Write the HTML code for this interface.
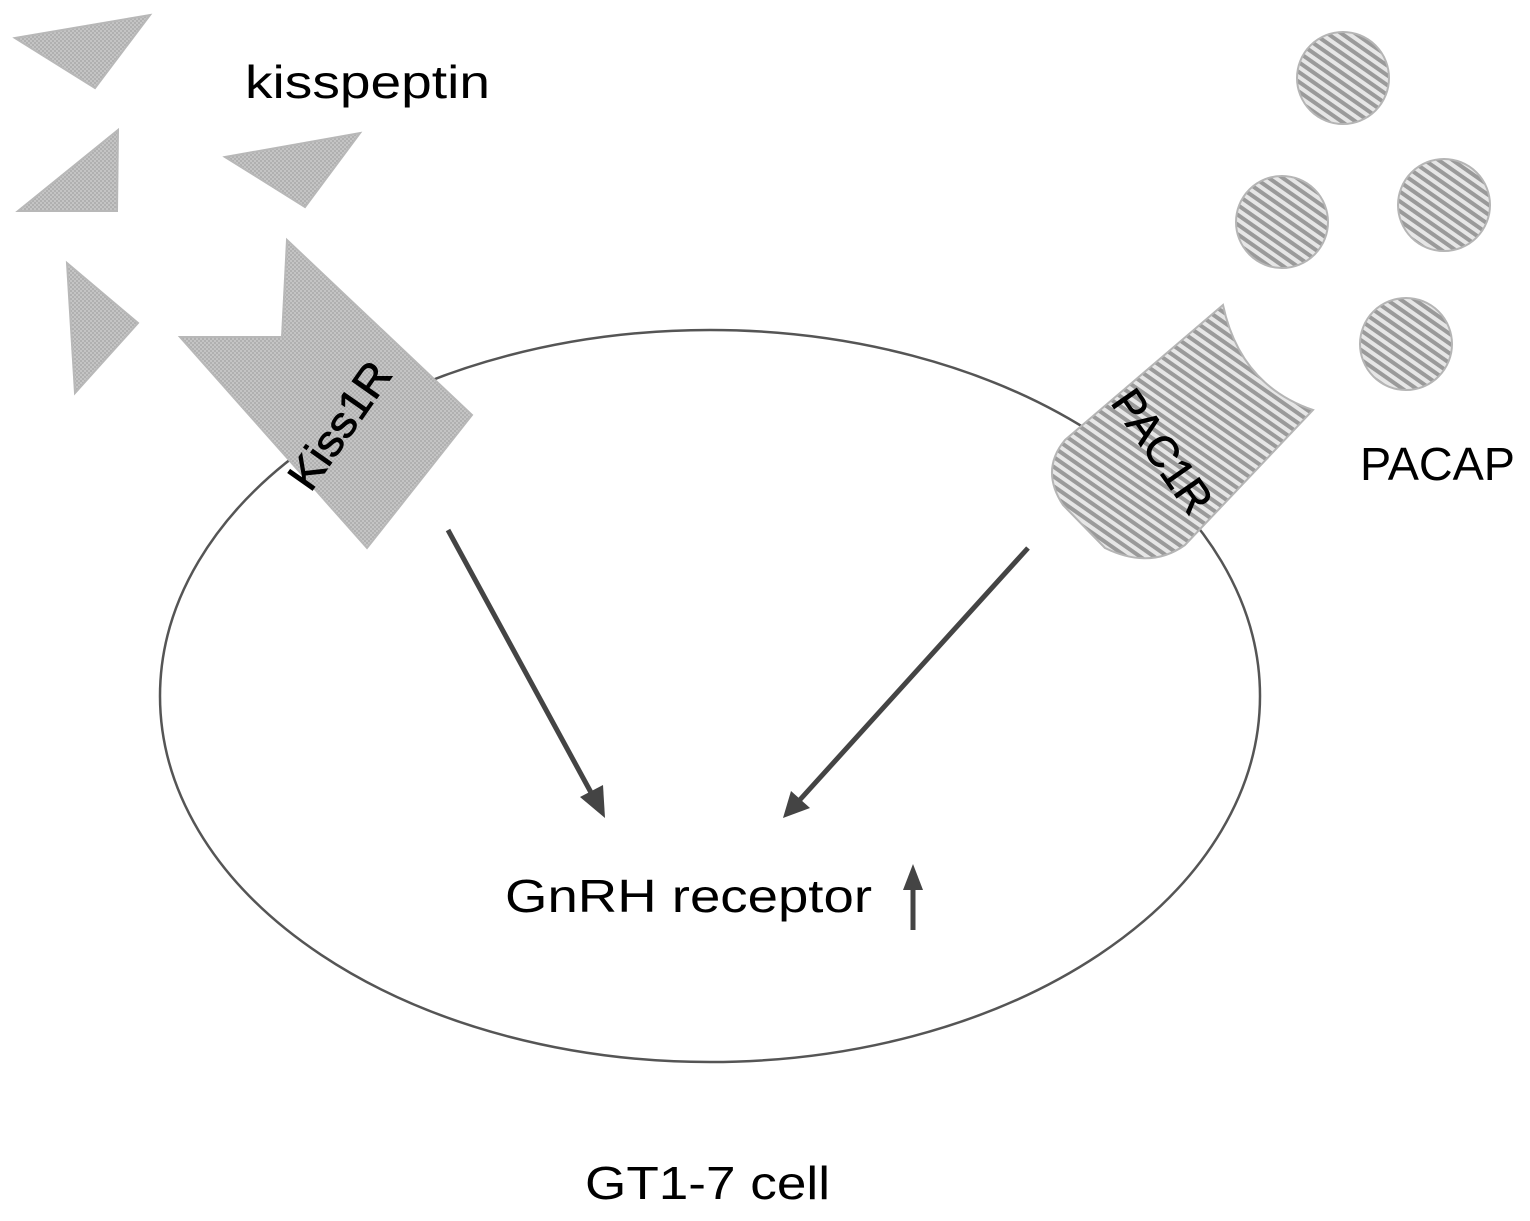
<!DOCTYPE html>
<html><head><style>html,body{margin:0;padding:0;background:#fff}svg{display:block}</style></head>
<body>
<svg width="1530" height="1221" viewBox="0 0 1530 1221" xmlns="http://www.w3.org/2000/svg">
<defs>
<pattern id="dots" width="4" height="4" patternUnits="userSpaceOnUse">
<rect width="4" height="4" fill="#c4c4c4"/><rect width="2" height="2" fill="#b0b0b0"/><rect x="2" y="2" width="2" height="2" fill="#b0b0b0"/>
</pattern>
<pattern id="hatch" width="8" height="8" patternUnits="userSpaceOnUse" patternTransform="rotate(35)">
<rect width="8" height="8" fill="#e6e6e6"/><rect width="8" height="4" fill="#9a9a9a"/>
</pattern>
</defs>
<ellipse cx="710" cy="696" rx="550" ry="366" fill="none" stroke="#555" stroke-width="2.5"/>
<g fill="url(#dots)" stroke="#b8b8b8" stroke-width="2">
<polygon points="15,38 150,15 95,88"/>
<polygon points="18,211 118,130 117,211"/>
<polygon points="225,157 360,133 305,207"/>
<polygon points="67,263 138,323 75,393"/>
<polygon points="287,240 472,415 367,548 180,337 282,337"/>
</g>
<g fill="url(#hatch)" stroke="#b5b5b5" stroke-width="2">
<circle cx="1343" cy="78" r="46"/>
<circle cx="1282" cy="222" r="46"/>
<circle cx="1444" cy="205" r="46"/>
<circle cx="1406" cy="344" r="46"/>
<path d="M1223,305 Q1240,385 1313,410 L1185,545 Q1150,570 1105,548 L1063,505 Q1040,470 1065,440 Z"/>
</g>
<g stroke="#444" stroke-width="5" fill="#444">
<line x1="448" y1="530" x2="594" y2="798"/>
<polygon points="605,818 580,797 603,785" stroke="none"/>
<line x1="1028" y1="548" x2="797" y2="803"/>
<polygon points="783,818 791,791 810,808" stroke="none"/>
<line x1="913" y1="930" x2="913" y2="885"/>
<polygon points="913,864 903,890 923,890" stroke="none"/>
</g>
<g font-family="Liberation Sans, sans-serif" fill="#000">
<text x="245" y="98" font-size="46" textLength="245" lengthAdjust="spacingAndGlyphs">kisspeptin</text>
<text x="1360" y="480" font-size="46" textLength="155" lengthAdjust="spacingAndGlyphs">PACAP</text>
<text x="505" y="912" font-size="46" textLength="367" lengthAdjust="spacingAndGlyphs">GnRH receptor</text>
<text x="585" y="1199" font-size="46" textLength="245" lengthAdjust="spacingAndGlyphs">GT1-7 cell</text>
<text x="0" y="0" font-size="44" text-anchor="middle" stroke="#000" stroke-width="0.8" transform="translate(352,434) rotate(-55)" textLength="145" lengthAdjust="spacingAndGlyphs">Kiss1R</text>
<text x="0" y="0" font-size="44" text-anchor="middle" stroke="#000" stroke-width="0.8" transform="translate(1150,460) rotate(55)" textLength="140" lengthAdjust="spacingAndGlyphs">PAC1R</text>
</g>
</svg>
</body></html>
